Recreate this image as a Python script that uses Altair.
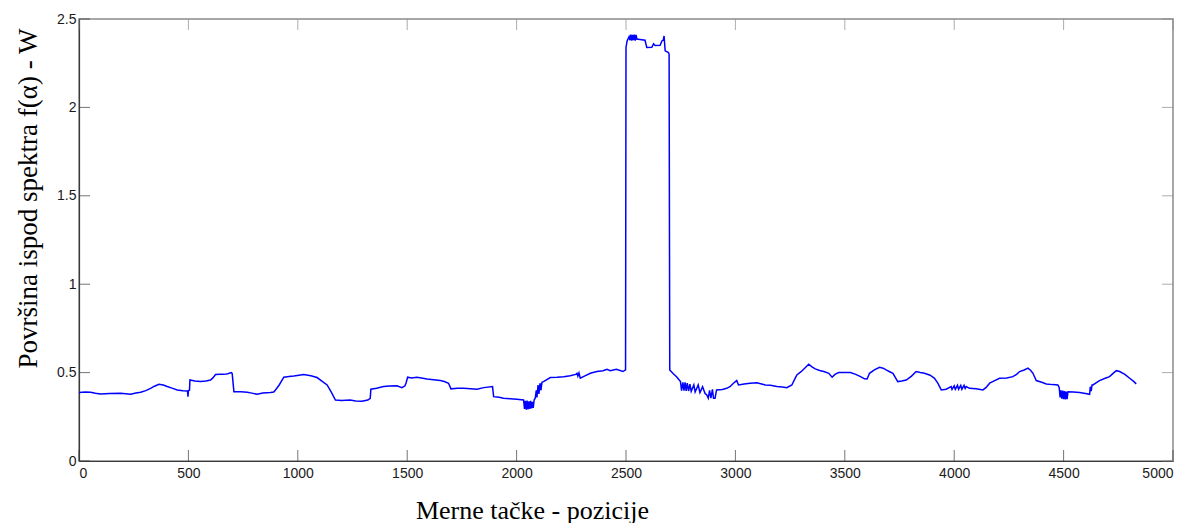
import altair as alt
import pandas as pd

pos = [0, 30, 53, 75, 99, 140, 190, 236, 260, 282, 305, 327, 345, 365, 385, 403, 425, 449, 475, 496,
       498, 500, 505, 507, 530, 556, 580, 601, 612, 624, 645, 662, 680, 696, 700, 708, 740, 769, 790, 814,
       840, 875, 890, 898, 915, 936, 960, 982, 1005, 1027, 1060, 1088, 1110, 1134, 1155, 1172, 1200, 1239, 1265, 1293,
       1320, 1331, 1334, 1360, 1392, 1420, 1453, 1476, 1490, 1495, 1502, 1520, 1544, 1565, 1590, 1620, 1651, 1670, 1689, 1700,
       1730, 1758, 1790, 1819, 1850, 1890, 1895, 1920, 1940, 1970, 2001, 2032, 2036, 2040, 2044, 2048, 2052, 2056, 2060, 2064,
       2068, 2072, 2076, 2080, 2085, 2090, 2093, 2098, 2102, 2107, 2111, 2116, 2123, 2154, 2185, 2215, 2245, 2270, 2276, 2280,
       2285, 2291, 2310, 2337, 2367, 2395, 2413, 2428, 2456, 2486, 2498, 2500, 2505, 2514, 2518, 2522, 2526, 2530, 2534, 2538,
       2542, 2546, 2550, 2556, 2587, 2595, 2618, 2626, 2633, 2656, 2664, 2670, 2674, 2679, 2694, 2697, 2700, 2715, 2731, 2749,
       2754, 2760, 2765, 2770, 2775, 2780, 2786, 2792, 2798, 2810, 2816, 2830, 2838, 2850, 2861, 2870, 2876, 2882, 2888, 2895,
       2900, 2907, 2914, 2940, 2960, 2975, 2991, 3006, 3014, 3040, 3067, 3098, 3120, 3136, 3160, 3190, 3215, 3235, 3258, 3270,
       3281, 3300, 3312, 3335, 3350, 3365, 3385, 3404, 3427, 3442, 3455, 3472, 3500, 3526, 3550, 3572, 3590, 3602, 3613, 3635,
       3659, 3675, 3689, 3705, 3720, 3742, 3760, 3781, 3805, 3826, 3845, 3864, 3890, 3910, 3925, 3941, 3963, 3986, 3990, 4000,
       4005, 4015, 4020, 4030, 4035, 4045, 4050, 4055, 4070, 4100, 4131, 4145, 4162, 4185, 4207, 4240, 4268, 4285, 4299, 4320,
       4337, 4350, 4360, 4375, 4400, 4421, 4450, 4474, 4480, 4484, 4488, 4492, 4496, 4500, 4504, 4508, 4512, 4516, 4520, 4545,
       4573, 4600, 4619, 4622, 4626, 4630, 4634, 4664, 4690, 4710, 4730, 4741, 4756, 4780, 4802, 4820, 4832]

w = [0.387, 0.390, 0.389, 0.383, 0.379, 0.382, 0.383, 0.377, 0.384, 0.389, 0.398, 0.411, 0.423, 0.434, 0.430, 0.421, 0.412, 0.402, 0.398, 0.396,
     0.364, 0.398, 0.400, 0.458, 0.452, 0.449, 0.452, 0.458, 0.470, 0.489, 0.490, 0.490, 0.494, 0.500, 0.496, 0.392, 0.392, 0.389, 0.384, 0.377,
     0.384, 0.387, 0.390, 0.402, 0.430, 0.474, 0.478, 0.481, 0.485, 0.489, 0.482, 0.472, 0.452, 0.430, 0.385, 0.345, 0.342, 0.345, 0.340, 0.338,
     0.345, 0.355, 0.406, 0.412, 0.421, 0.424, 0.426, 0.415, 0.425, 0.443, 0.474, 0.470, 0.474, 0.470, 0.464, 0.460, 0.455, 0.450, 0.440, 0.408,
     0.412, 0.411, 0.408, 0.406, 0.415, 0.421, 0.364, 0.360, 0.355, 0.352, 0.349, 0.345, 0.295, 0.340, 0.290, 0.342, 0.292, 0.338, 0.295, 0.340,
     0.298, 0.335, 0.300, 0.345, 0.355, 0.400, 0.360, 0.430, 0.380, 0.440, 0.400, 0.445, 0.449, 0.472, 0.474, 0.477, 0.482, 0.490, 0.496, 0.480,
     0.498, 0.468, 0.480, 0.496, 0.506, 0.511, 0.519, 0.511, 0.519, 0.506, 0.515, 2.339, 2.376, 2.400, 2.380, 2.412, 2.378, 2.410, 2.380, 2.412,
     2.378, 2.410, 2.385, 2.385, 2.380, 2.339, 2.340, 2.360, 2.350, 2.352, 2.376, 2.380, 2.404, 2.320, 2.310, 2.300, 0.515, 0.495, 0.477, 0.449,
     0.398, 0.445, 0.398, 0.445, 0.396, 0.440, 0.396, 0.435, 0.394, 0.430, 0.390, 0.430, 0.387, 0.420, 0.383, 0.372, 0.355, 0.400, 0.356, 0.405,
     0.355, 0.355, 0.402, 0.405, 0.411, 0.420, 0.440, 0.455, 0.430, 0.436, 0.440, 0.443, 0.436, 0.430, 0.428, 0.421, 0.418, 0.415, 0.430, 0.460,
     0.487, 0.505, 0.519, 0.547, 0.532, 0.521, 0.512, 0.506, 0.496, 0.474, 0.490, 0.500, 0.500, 0.500, 0.490, 0.477, 0.465, 0.464, 0.496, 0.515,
     0.530, 0.525, 0.515, 0.505, 0.496, 0.449, 0.452, 0.458, 0.480, 0.506, 0.500, 0.496, 0.485, 0.468, 0.440, 0.402, 0.406, 0.421, 0.405, 0.425,
     0.405, 0.428, 0.406, 0.428, 0.406, 0.428, 0.410, 0.421, 0.411, 0.408, 0.402, 0.415, 0.440, 0.455, 0.468, 0.470, 0.477, 0.490, 0.506, 0.515,
     0.525, 0.512, 0.496, 0.455, 0.445, 0.436, 0.432, 0.430, 0.415, 0.360, 0.400, 0.352, 0.398, 0.350, 0.395, 0.349, 0.392, 0.350, 0.392, 0.390,
     0.387, 0.382, 0.377, 0.420, 0.395, 0.430, 0.430, 0.455, 0.468, 0.477, 0.500, 0.511, 0.506, 0.490, 0.468, 0.450, 0.436]

x_ticks = [0, 500, 1000, 1500, 2000, 2500, 3000, 3500, 4000, 4500, 5000]
y_ticks = [0, 0.5, 1, 1.5, 2, 2.5]

x_title = "Merne tačke - pozicije"
y_title = "Površina ispod spektra f(α) - W"

df = pd.DataFrame({"pos": pos, "w": w})
dfx = pd.DataFrame({"t": x_ticks})
dfy = pd.DataFrame({"t": y_ticks})

xscale = alt.Scale(domain=[0, 5000], nice=False, zero=False)
yscale = alt.Scale(domain=[0, 2.5], nice=False, zero=False)

line = alt.Chart(df).mark_line(color="#0000ff", strokeWidth=1.5, interpolate="linear").encode(
    x=alt.X("pos:Q", scale=xscale, axis=alt.Axis(
        values=x_ticks, format="d", ticks=False, grid=False, domainColor="#3a3a3a", domainWidth=1.2,
        labelFont="Liberation Sans", labelFontSize=14, labelColor="#1a1a1a", labelPadding=5,
        title=x_title, titleFont="Liberation Serif", titleFontSize=26, titleFontWeight="normal",
        titleColor="#000000", titleX=453, titleY=57, titleAlign="center", titleBaseline="alphabetic")),
    y=alt.Y("w:Q", scale=yscale, axis=alt.Axis(
        values=y_ticks, format="~g", ticks=False, grid=False, domainColor="#3a3a3a", domainWidth=1.2,
        labelFont="Liberation Sans", labelFontSize=14, labelColor="#1a1a1a", labelPadding=3,
        title=y_title, titleFont="Liberation Serif", titleFontSize=27, titleFontWeight="normal",
        titleColor="#000000", titleX=-37, titleY=179, titleAngle=-90, titleAlign="center",
        titleBaseline="bottom")),
)

tick_color = "#3a3a3a"
xt_bottom = alt.Chart(dfx).mark_tick(orient="vertical", size=11, thickness=1, yOffset=-5.5, color=tick_color).encode(
    x=alt.X("t:Q", scale=xscale), y=alt.datum(0, scale=yscale))
xt_top = alt.Chart(dfx).mark_tick(orient="vertical", size=11, thickness=1, yOffset=5.5, color="#8a8a8a").encode(
    x=alt.X("t:Q", scale=xscale), y=alt.datum(2.5, scale=yscale))
yt_left = alt.Chart(dfy).mark_tick(orient="horizontal", size=11, thickness=1, xOffset=5.5, color=tick_color).encode(
    y=alt.Y("t:Q", scale=yscale), x=alt.datum(0, scale=xscale))
yt_right = alt.Chart(dfy).mark_tick(orient="horizontal", size=11, thickness=1, xOffset=-5.5, color="#8a8a8a").encode(
    y=alt.Y("t:Q", scale=yscale), x=alt.datum(5000, scale=xscale))

chart = alt.layer(xt_bottom, xt_top, yt_left, yt_right, line).properties(
    width=1094, height=442,
    autosize=alt.AutoSizeParams(type="none"),
    padding={"left": 71, "top": 11, "right": 15, "bottom": 62},
    background="white",
).configure_view(stroke="#8a8a8a", strokeWidth=1.5)

chart.save("out.html", embed_options={"renderer": "svg", "actions": False})
